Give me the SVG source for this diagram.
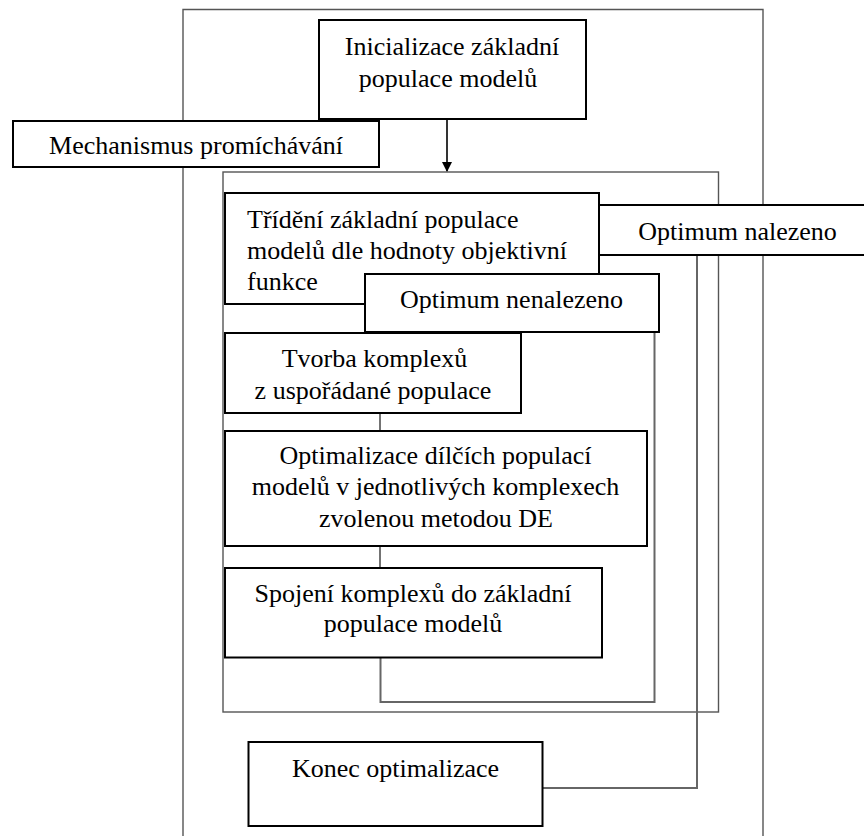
<svg xmlns="http://www.w3.org/2000/svg" width="864" height="836" viewBox="0 0 864 836">
  <style>
    .frame { fill: none; stroke: #555; stroke-width: 1.4; }
    .box { fill: #fff; stroke: #000; stroke-width: 2; }
    .conn { fill: none; stroke: #666; stroke-width: 2; }
    .thin { fill: none; stroke: #444; stroke-width: 1.5; }
    text { font-family: "Liberation Serif", "Times New Roman", serif; font-size: 26px; fill: #000; }
    .c { text-anchor: middle; }
  </style>
  <defs>
    <marker id="arrow" markerWidth="10" markerHeight="12" refX="9" refY="5" orient="auto" markerUnits="userSpaceOnUse">
      <path d="M0,0 L10,5 L0,10 Z" fill="#000"/>
    </marker>
  </defs>
  <rect width="864" height="836" fill="#fff"/>

  <g id="frames">
    <path class="frame" d="M183,840 V9.5 H763 V840"/>
    <rect class="frame" x="223" y="172" width="495.5" height="540"/>
  </g>

  <g id="connectors">
    <line x1="447" y1="119" x2="447" y2="171" stroke="#000" stroke-width="1.6" marker-end="url(#arrow)"/>
    <line class="thin" x1="380" y1="413" x2="380" y2="431"/>
    <line class="thin" x1="380" y1="546" x2="380" y2="568"/>
    <path class="conn" d="M380.5,658 V702 H654.5 V332"/>
    <path class="conn" d="M543,788 H697 V255"/>
  </g>

  <g id="init">
    <rect class="box" x="319" y="20" width="267" height="99"/>
    <text class="c" x="452" y="55">Inicializace základní</text>
    <text class="c" x="448" y="87">populace modelů</text>
  </g>

  <g id="mechanismus">
    <rect class="box" x="13" y="121" width="366" height="46"/>
    <text class="c" x="196" y="154">Mechanismus promíchávání</text>
  </g>

  <g id="trideni">
    <rect class="box" x="225" y="193" width="374" height="111"/>
    <text x="247" y="228">Třídění základní populace</text>
    <text x="247" y="259">modelů dle hodnoty objektivní</text>
    <text x="247" y="290">funkce</text>
  </g>

  <g id="optimum-nalezeno">
    <rect class="box" x="599" y="205" width="275" height="50"/>
    <text class="c" x="737.5" y="240">Optimum nalezeno</text>
  </g>

  <g id="optimum-nenalezeno">
    <rect class="box" x="365" y="274" width="294" height="58"/>
    <text class="c" x="511.5" y="308">Optimum nenalezeno</text>
  </g>

  <g id="tvorba">
    <rect class="box" x="225" y="333" width="296" height="80"/>
    <text class="c" x="374.5" y="367">Tvorba komplexů</text>
    <text class="c" x="373" y="399">z uspořádané populace</text>
  </g>

  <g id="optimalizace">
    <rect class="box" x="225" y="431" width="422" height="115"/>
    <text class="c" x="435.5" y="464">Optimalizace dílčích populací</text>
    <text class="c" x="435.5" y="495">modelů v jednotlivých komplexech</text>
    <text class="c" x="436" y="527">zvolenou metodou DE</text>
  </g>

  <g id="spojeni">
    <rect class="box" x="225" y="568" width="377" height="89.5"/>
    <text class="c" x="413" y="602">Spojení komplexů do základní</text>
    <text class="c" x="413" y="632">populace modelů</text>
  </g>

  <g id="konec">
    <rect class="box" x="248.5" y="742" width="294" height="84"/>
    <text class="c" x="395.5" y="777">Konec optimalizace</text>
  </g>
</svg>
